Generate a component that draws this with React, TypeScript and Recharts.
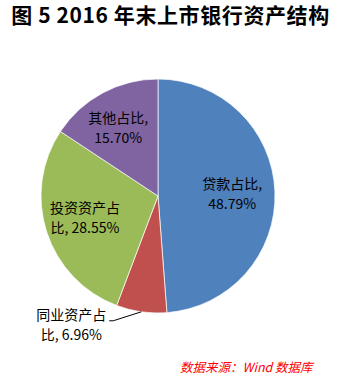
import { PieChart, Pie, Cell } from 'recharts'

const SLICES = ['贷款占比', '同业资产占比', '投资资产占比', '其他占比']
const SHARES = [48.79, 6.96, 28.55, 15.7]
const LABEL_LINES = [
  ['贷款占比,', '48.79%'],
  ['同业资产占', '比, 6.96%'],
  ['投资资产占', '比, 28.55%'],
  ['其他占比,', '15.70%'],
]

const COLORS = ['#4F81BD', '#C0504D', '#9BBB59', '#8064A2']
const FONT = '"Noto Sans CJK SC", "Noto Sans", sans-serif'
const RAD = Math.PI / 180

// per-slice label placement: radius factor and angle tweak (deg)
const LABEL_PLACE = [
  { r: 0.635, da: 0, outside: false },
  { r: 1.32, da: -26, outside: true },
  { r: 0.65, da: -1.9, outside: false },
  { r: 0.68, da: 1.8, outside: false },
]

const data = SLICES.map((name, i) => ({ name, value: SHARES[i] }))

function renderLabel(props: any) {
  const { cx, cy, midAngle, outerRadius, index } = props
  const place = LABEL_PLACE[index]
  const a = (midAngle + place.da) * RAD
  const x = cx + outerRadius * place.r * Math.cos(a)
  const y = cy - outerRadius * place.r * Math.sin(a)
  const lines = LABEL_LINES[index]
  const ma = midAngle * RAD
  const ex = cx + outerRadius * Math.cos(ma)
  const ey = cy - outerRadius * Math.sin(ma)
  return (
    <g key={`lbl-${index}`}>
      {place.outside && (
        <polyline
          points={`${ex},${ey} ${x + 42},${y - 3} ${x + 38},${y - 3}`}
          fill="none"
          stroke="#000"
          strokeWidth={1}
        />
      )}
      {lines.map((t, j) => (
        <text
          key={j}
          x={x}
          y={y + (j - 0.5) * 20.5}
          textAnchor="middle"
          dominantBaseline="central"
          fontSize={14}
          fontFamily={FONT}
          fill="#000"
        >
          {t}
        </text>
      ))}
    </g>
  )
}

export default function App() {
  return (
    <div style={{ position: 'absolute', left: 0, top: 0, width: 341, height: 380, background: '#fff' }}>
      <div
        style={{
          position: 'absolute',
          top: -1,
          left: 0,
          width: 341,
          textAlign: 'center',
          fontFamily: FONT,
          fontWeight: 600,
          fontSize: 21,
          letterSpacing: 0.6,
          color: '#000',
          whiteSpace: 'nowrap',
        }}
      >
        图 5 2016 年末上市银行资产结构
      </div>
      <PieChart
        width={341}
        height={380}
        margin={{ top: 0, right: 0, bottom: 0, left: 0 }}
        style={{ position: 'absolute', left: 0, top: 0 }}
      >
        <Pie
          data={data}
          dataKey="value"
          nameKey="name"
          cx={158}
          cy={196}
          outerRadius={117}
          startAngle={90}
          endAngle={-270}
          stroke="#fff"
          strokeWidth={0.7}
          label={renderLabel}
          labelLine={false}
          isAnimationActive={false}
        >
          {data.map((d, i) => (
            <Cell key={d.name} fill={COLORS[i]} />
          ))}
        </Pie>
      </PieChart>
      <div
        style={{
          position: 'absolute',
          left: 180,
          top: 357,
          fontFamily: FONT,
          fontStyle: 'italic',
          fontSize: 12.5,
          color: '#FF0000',
          whiteSpace: 'nowrap',
        }}
      >
        数据来源：Wind 数据库
      </div>
    </div>
  )
}
